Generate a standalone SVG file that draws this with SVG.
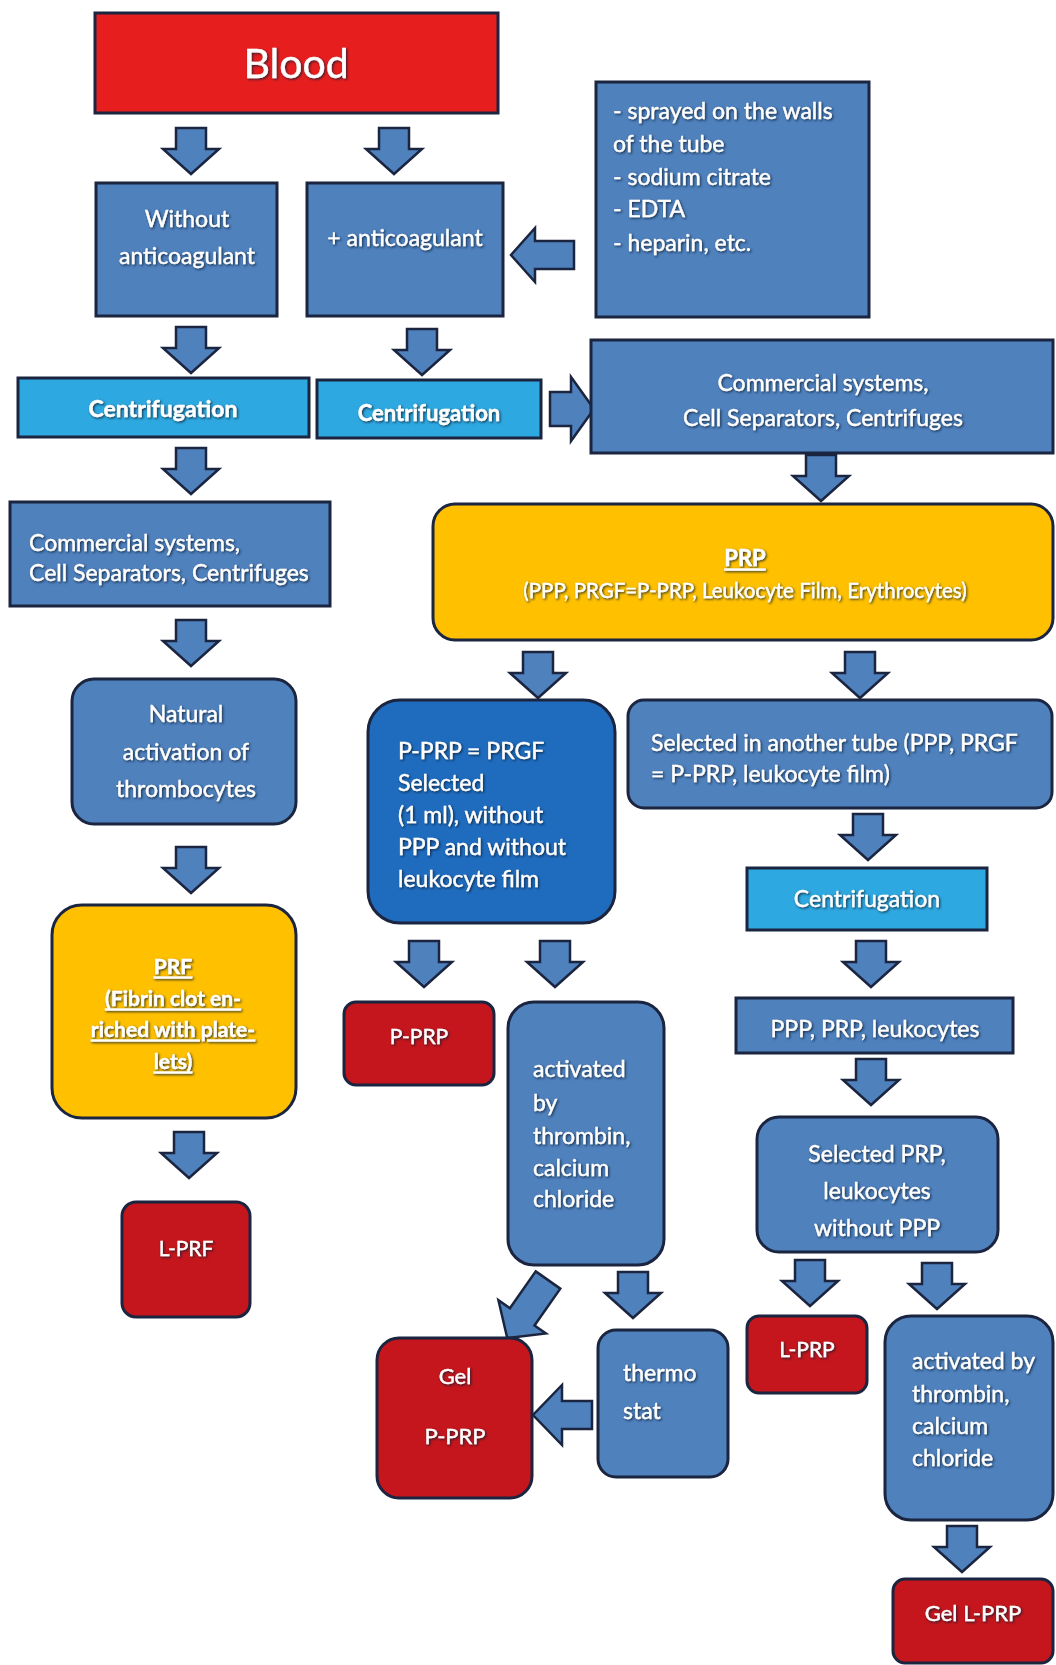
<svg xmlns="http://www.w3.org/2000/svg" xmlns:xlink="http://www.w3.org/1999/xlink" width="1056" height="1665" viewBox="0 0 1056 1665">
<defs>
<style>
.n{stroke:#1b2540;stroke-width:3}
.blue{fill:#4f81bd}
.dblue{fill:#1f6cbf}
.lb{fill:#2ea8e0}
.yel{fill:#ffc000}
.red{fill:#c4161c}
.blood{fill:#e61e1e}
.arr{fill:#4f81bd;stroke:#1b2540;stroke-width:2.5;stroke-linejoin:miter}
text{font-family:Lato,"Open Sans","Liberation Sans",sans-serif;fill:#ffffff;stroke:#ffffff;stroke-width:0.35;font-size:23px;filter:url(#sh)}
.c{text-anchor:middle}
.b{font-weight:bold}
.u{text-decoration:underline}
</style>
<filter id="sh" x="-10%" y="-30%" width="120%" height="160%">
<feDropShadow dx="1.2" dy="1.2" stdDeviation="0.8" flood-color="#101a30" flood-opacity="0.85"/>
</filter>
<path id="ad" d="M-15,0 H15 V21 H28 L0,46 L-28,21 H-15 Z"/>
</defs>

<g id="connectors">
<use href="#ad" class="arr" transform="translate(191,128)"/>
<use href="#ad" class="arr" transform="translate(394,128)"/>
<use href="#ad" class="arr" transform="translate(191,327)"/>
<use href="#ad" class="arr" transform="translate(422,329)"/>
<use href="#ad" class="arr" transform="translate(191,448)"/>
<use href="#ad" class="arr" transform="translate(821,455)"/>
<use href="#ad" class="arr" transform="translate(191,620)"/>
<use href="#ad" class="arr" transform="translate(538,652)"/>
<use href="#ad" class="arr" transform="translate(860,652)"/>
<use href="#ad" class="arr" transform="translate(191,847)"/>
<use href="#ad" class="arr" transform="translate(868,814)"/>
<use href="#ad" class="arr" transform="translate(424,941)"/>
<use href="#ad" class="arr" transform="translate(555,941)"/>
<use href="#ad" class="arr" transform="translate(871,941)"/>
<use href="#ad" class="arr" transform="translate(189,1132)"/>
<use href="#ad" class="arr" transform="translate(871,1059)"/>
<use href="#ad" class="arr" transform="translate(633,1272)"/>
<use href="#ad" class="arr" transform="translate(810,1260)"/>
<use href="#ad" class="arr" transform="translate(937,1263)"/>
<use href="#ad" class="arr" transform="translate(962,1526)"/>
<path class="arr" d="M574,241 H535 V228 L511,255 L535,282 V269 H574 Z"/>
<path class="arr" d="M550,392 H571 V377 L594,409 L571,441 V426 H550 Z"/>
<path class="arr" d="M592,1401 H562 V1385 L533,1415 L562,1445 V1429 H592 Z"/>
<path class="arr" transform="translate(548,1280) rotate(35)" d="M-15,0 H15 V45 H29 L0,71 L-29,45 H-15 Z"/>
</g>

<g id="blood"><rect class="n blood" x="95" y="13" width="403" height="100"/><text class="c" x="296" y="62" dominant-baseline="central" style="font-size:41px">Blood</text></g>

<g id="without"><rect class="n blue" x="96" y="183" width="181" height="133"/>
<text class="c" x="187" y="218" dominant-baseline="central">Without</text>
<text class="c" x="187" y="255" dominant-baseline="central">anticoagulant</text></g>

<g id="anticoagulant"><rect class="n blue" x="307" y="183" width="196" height="133"/>
<text class="c" x="405" y="237" dominant-baseline="central">+ anticoagulant</text></g>

<g id="sprayed"><rect class="n blue" x="596" y="82" width="273" height="235"/>
<text x="613" y="110" dominant-baseline="central">- sprayed on the walls</text>
<text x="613" y="143" dominant-baseline="central">of the tube</text>
<text x="613" y="176" dominant-baseline="central">- sodium citrate</text>
<text x="613" y="208" dominant-baseline="central">- EDTA</text>
<text x="613" y="242" dominant-baseline="central">- heparin, etc.</text></g>

<g id="centrif1"><rect class="n lb" x="18" y="378" width="291" height="59"/>
<text class="c b" x="163" y="408" dominant-baseline="central">Centrifugation</text></g>

<g id="centrif2"><rect class="n lb" x="317" y="380" width="224" height="58"/>
<text class="c b" x="429" y="412" dominant-baseline="central" style="font-size:22px">Centrifugation</text></g>

<g id="commercialR"><rect class="n blue" x="591" y="340" width="462" height="113"/>
<text class="c" x="823" y="382" dominant-baseline="central">Commercial systems,</text>
<text class="c" x="823" y="417" dominant-baseline="central">Cell Separators, Centrifuges</text></g>

<g id="commercialL"><rect class="n blue" x="10" y="502" width="320" height="104"/>
<text x="29" y="542" dominant-baseline="central">Commercial systems,</text>
<text x="29" y="572" dominant-baseline="central">Cell Separators, Centrifuges</text></g>

<g id="prp"><rect class="n yel" x="433" y="504" width="620" height="136" rx="22"/>
<text class="c b u" x="745" y="557" dominant-baseline="central" style="font-size:22px">PRP</text>
<text class="c" x="745" y="590" dominant-baseline="central" style="font-size:20.5px">(PPP, PRGF=P-PRP, Leukocyte Film, Erythrocytes)</text></g>

<g id="natural"><rect class="n blue" x="72" y="679" width="224" height="145" rx="22"/>
<text class="c" x="186" y="713" dominant-baseline="central">Natural</text>
<text class="c" x="186" y="751" dominant-baseline="central">activation of</text>
<text class="c" x="186" y="788" dominant-baseline="central">thrombocytes</text></g>

<g id="pprgf"><rect class="n dblue" x="368" y="700" width="247" height="223" rx="32"/>
<text x="398" y="750" dominant-baseline="central">P-PRP = PRGF</text>
<text x="398" y="782" dominant-baseline="central">Selected</text>
<text x="398" y="814" dominant-baseline="central">(1 ml), without</text>
<text x="398" y="846" dominant-baseline="central">PPP and without</text>
<text x="398" y="878" dominant-baseline="central">leukocyte film</text></g>

<g id="selAnother"><rect class="n blue" x="628" y="700" width="424" height="108" rx="16"/>
<text x="651" y="742" dominant-baseline="central">Selected in another tube (PPP, PRGF</text>
<text x="651" y="773" dominant-baseline="central">= P-PRP, leukocyte film)</text></g>

<g id="prf"><rect class="n yel" x="52" y="905" width="244" height="213" rx="30"/>
<text class="c b u" x="173" y="965" dominant-baseline="central" style="font-size:21px">PRF</text>
<text class="c b u" x="173" y="997" dominant-baseline="central" style="font-size:21px">(Fibrin clot en-</text>
<text class="c b u" x="173" y="1028" dominant-baseline="central" style="font-size:21px">riched with plate-</text>
<text class="c b u" x="173" y="1060" dominant-baseline="central" style="font-size:21px">lets)</text></g>

<g id="centrif3"><rect class="n lb" x="747" y="868" width="240" height="62"/>
<text class="c" x="867" y="898" dominant-baseline="central">Centrifugation</text></g>

<g id="pprpRed"><rect class="n red" x="344" y="1002" width="150" height="83" rx="12"/>
<text class="c" x="419" y="1035" dominant-baseline="central" style="font-size:21px">P-PRP</text></g>

<g id="activatedMid"><rect class="n blue" x="508" y="1002" width="156" height="263" rx="26"/>
<text x="533" y="1068" dominant-baseline="central">activated</text>
<text x="533" y="1102" dominant-baseline="central">by</text>
<text x="533" y="1135" dominant-baseline="central">thrombin,</text>
<text x="533" y="1167" dominant-baseline="central">calcium</text>
<text x="533" y="1198" dominant-baseline="central">chloride</text></g>

<g id="pppLeuk"><rect class="n blue" x="736" y="998" width="277" height="55"/>
<text class="c" x="875" y="1028" dominant-baseline="central">PPP, PRP, leukocytes</text></g>

<g id="selPRP"><rect class="n blue" x="757" y="1117" width="241" height="135" rx="22"/>
<text class="c" x="877" y="1153" dominant-baseline="central">Selected PRP,</text>
<text class="c" x="877" y="1190" dominant-baseline="central">leukocytes</text>
<text class="c" x="877" y="1227" dominant-baseline="central">without PPP</text></g>

<g id="lprf"><rect class="n red" x="122" y="1202" width="128" height="115" rx="14"/>
<text class="c" x="186" y="1247" dominant-baseline="central" style="font-size:21px">L-PRF</text></g>

<g id="gelPPRP"><rect class="n red" x="377" y="1338" width="155" height="160" rx="22"/>
<text class="c" x="455" y="1375" dominant-baseline="central" style="font-size:22px">Gel</text>
<text class="c" x="455" y="1435" dominant-baseline="central" style="font-size:22px">P-PRP</text></g>

<g id="thermo"><rect class="n blue" x="598" y="1330" width="130" height="147" rx="18"/>
<text x="623" y="1372" dominant-baseline="central">thermo</text>
<text x="623" y="1410" dominant-baseline="central">stat</text></g>

<g id="lprp"><rect class="n red" x="747" y="1316" width="120" height="77" rx="12"/>
<text class="c" x="807" y="1348" dominant-baseline="central" style="font-size:21px">L-PRP</text></g>

<g id="activatedRight"><rect class="n blue" x="885" y="1316" width="168" height="204" rx="26"/>
<text x="912" y="1360" dominant-baseline="central">activated by</text>
<text x="912" y="1393" dominant-baseline="central">thrombin,</text>
<text x="912" y="1425" dominant-baseline="central">calcium</text>
<text x="912" y="1457" dominant-baseline="central">chloride</text></g>

<g id="gelLPRP"><rect class="n red" x="893" y="1579" width="160" height="84" rx="12"/>
<text class="c" x="973" y="1612" dominant-baseline="central" style="font-size:22px">Gel L-PRP</text></g>
</svg>
